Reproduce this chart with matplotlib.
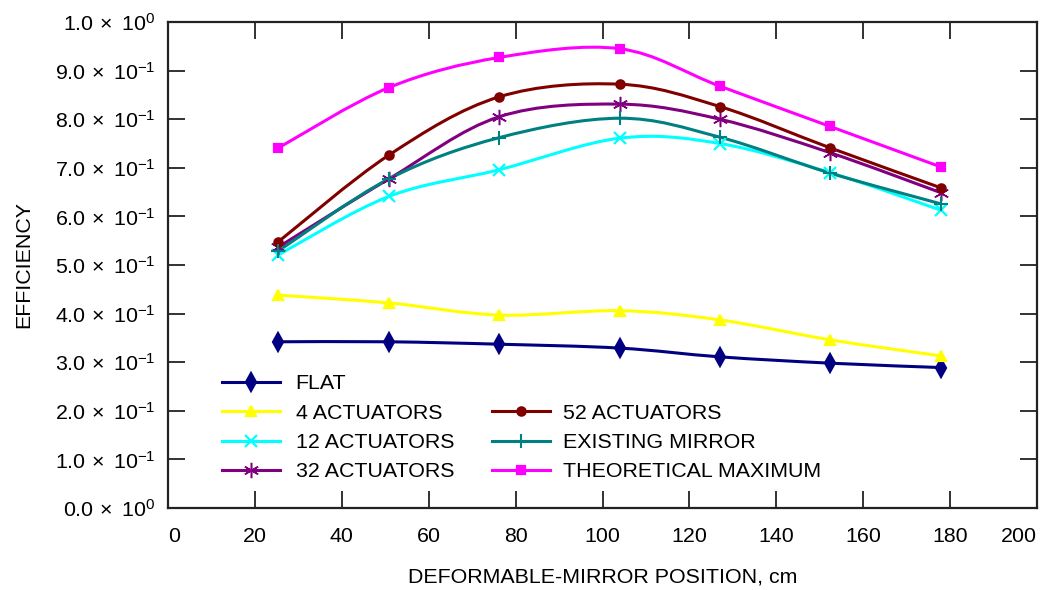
import matplotlib
matplotlib.use('Agg')
import matplotlib.pyplot as plt
import numpy as np
from matplotlib.path import Path
from matplotlib.patches import PathPatch
from matplotlib.lines import Line2D

# mirror position (cm) and efficiency for each configuration
position = [25.4, 50.8, 76.2, 104.0, 127.0, 152.4, 177.8]
flat = [0.342, 0.342, 0.337, 0.329, 0.311, 0.298, 0.289]
act4 = [0.438, 0.422, 0.397, 0.406, 0.387, 0.346, 0.313]
act12 = [0.521, 0.641, 0.696, 0.761, 0.750, 0.690, 0.613]
act32 = [0.537, 0.677, 0.805, 0.831, 0.800, 0.731, 0.649]
act52 = [0.548, 0.726, 0.846, 0.872, 0.826, 0.741, 0.659]
existing = [0.529, 0.677, 0.762, 0.802, 0.763, 0.689, 0.626]
theoretical = [0.741, 0.865, 0.927, 0.945, 0.868, 0.785, 0.702]

x_ticks = list(range(0, 201, 20))
y_ticks = [i / 10 for i in range(11)]

plt.rcParams['font.family'] = ['Liberation Sans', 'DejaVu Sans']
plt.rcParams['mathtext.fontset'] = 'custom'
plt.rcParams['mathtext.rm'] = 'Liberation Sans'
plt.rcParams['mathtext.it'] = 'Liberation Sans:italic'
FS = 15.4


def smooth_path(xs, ys):
    # bezier segments through the points (spreadsheet-style smoothed line)
    pts = np.column_stack([xs, ys])
    n = len(pts)
    verts = [pts[0]]
    codes = [Path.MOVETO]
    for i in range(n - 1):
        p0 = pts[max(i - 1, 0)]
        p1 = pts[i]
        p2 = pts[i + 1]
        p3 = pts[min(i + 2, n - 1)]
        verts += [p1 + (p2 - p0) / 6, p2 - (p3 - p1) / 6, p2]
        codes += [Path.CURVE4] * 3
    return Path(verts, codes)


# label, values, colour, marker, marker size, marker edge width
series = [
    ('FLAT', flat, '#000080', 'd', 9, 1.6),
    ('4 ACTUATORS', act4, '#FFFF00', '^', 7, 1.6),
    ('12 ACTUATORS', act12, '#00FFFF', 'x', 9, 1.6),
    ('32 ACTUATORS', act32, '#800080', (6, 2, 0), 11, 1.1),
    ('52 ACTUATORS', act52, '#800000', 'o', 6, 1.6),
    ('EXISTING MIRROR', existing, '#008080', '+', 10, 1.5),
    ('THEORETICAL MAXIMUM', theoretical, '#FF00FF', 's', 5.5, 1.6),
]

fig = plt.figure(figsize=(10.47, 5.90), dpi=100)
ax = fig.add_axes([0.1605, 0.139, 0.83, 0.8237])

handles = []
for label, vals, col, mk, ms, mew in series:
    ax.add_patch(PathPatch(smooth_path(position, vals), fill=False,
                           edgecolor=col, lw=2.2, capstyle='round'))
    ax.plot(position, vals, linestyle='none', marker=mk, ms=ms,
            color=col, mfc=col, mec=col, mew=mew)
    handles.append(Line2D([], [], color=col, lw=2.2, marker=mk, ms=ms,
                          mfc=col, mec=col, mew=mew, label=label))

ax.set_xlim(0, 200)
ax.set_ylim(0, 1.0)
ax.set_xticks(x_ticks)
ax.set_xticklabels([str(v) for v in x_ticks], fontsize=FS)
ax.set_yticks(y_ticks)
ylabels = []
for v in y_ticks:
    if v == 0 or v == 1.0:
        ylabels.append(r'$\mathregular{%.1f\,\times\ 10^{0}}$' % v)
    else:
        ylabels.append(r'$\mathregular{%.1f\,\times\ 10^{-1}}$' % (v * 10))
ax.set_yticklabels(ylabels, fontsize=FS)
tl = ax.get_xticklabels()
tl[0].set_ha('left')
tl[-1].set_ha('right')

ax.tick_params(axis='both', direction='in', length=12, width=1.3,
               top=True, right=True, color='#222222')
ax.tick_params(axis='x', pad=14)
ax.tick_params(axis='y', pad=9)
for s in ax.spines.values():
    s.set_linewidth(1.6)
    s.set_color('#222222')

ax.set_xlabel('DEFORMABLE-MIRROR POSITION, cm', fontsize=FS, labelpad=15.5)
ax.set_ylabel('EFFICIENCY', fontsize=FS, labelpad=16)

leg1 = ax.legend(handles=handles[:4], loc='lower left', bbox_to_anchor=(0.062, 0.055),
                 frameon=False, fontsize=FS, handlelength=2.7, handletextpad=0.75,
                 labelspacing=0.48, borderpad=0, borderaxespad=0)
ax.add_artist(leg1)
ax.legend(handles=handles[4:], loc='lower left', bbox_to_anchor=(0.373, 0.055),
          frameon=False, fontsize=FS, handlelength=2.7, handletextpad=0.6,
          labelspacing=0.48, borderpad=0, borderaxespad=0)

fig.savefig('out.png', dpi=100)
